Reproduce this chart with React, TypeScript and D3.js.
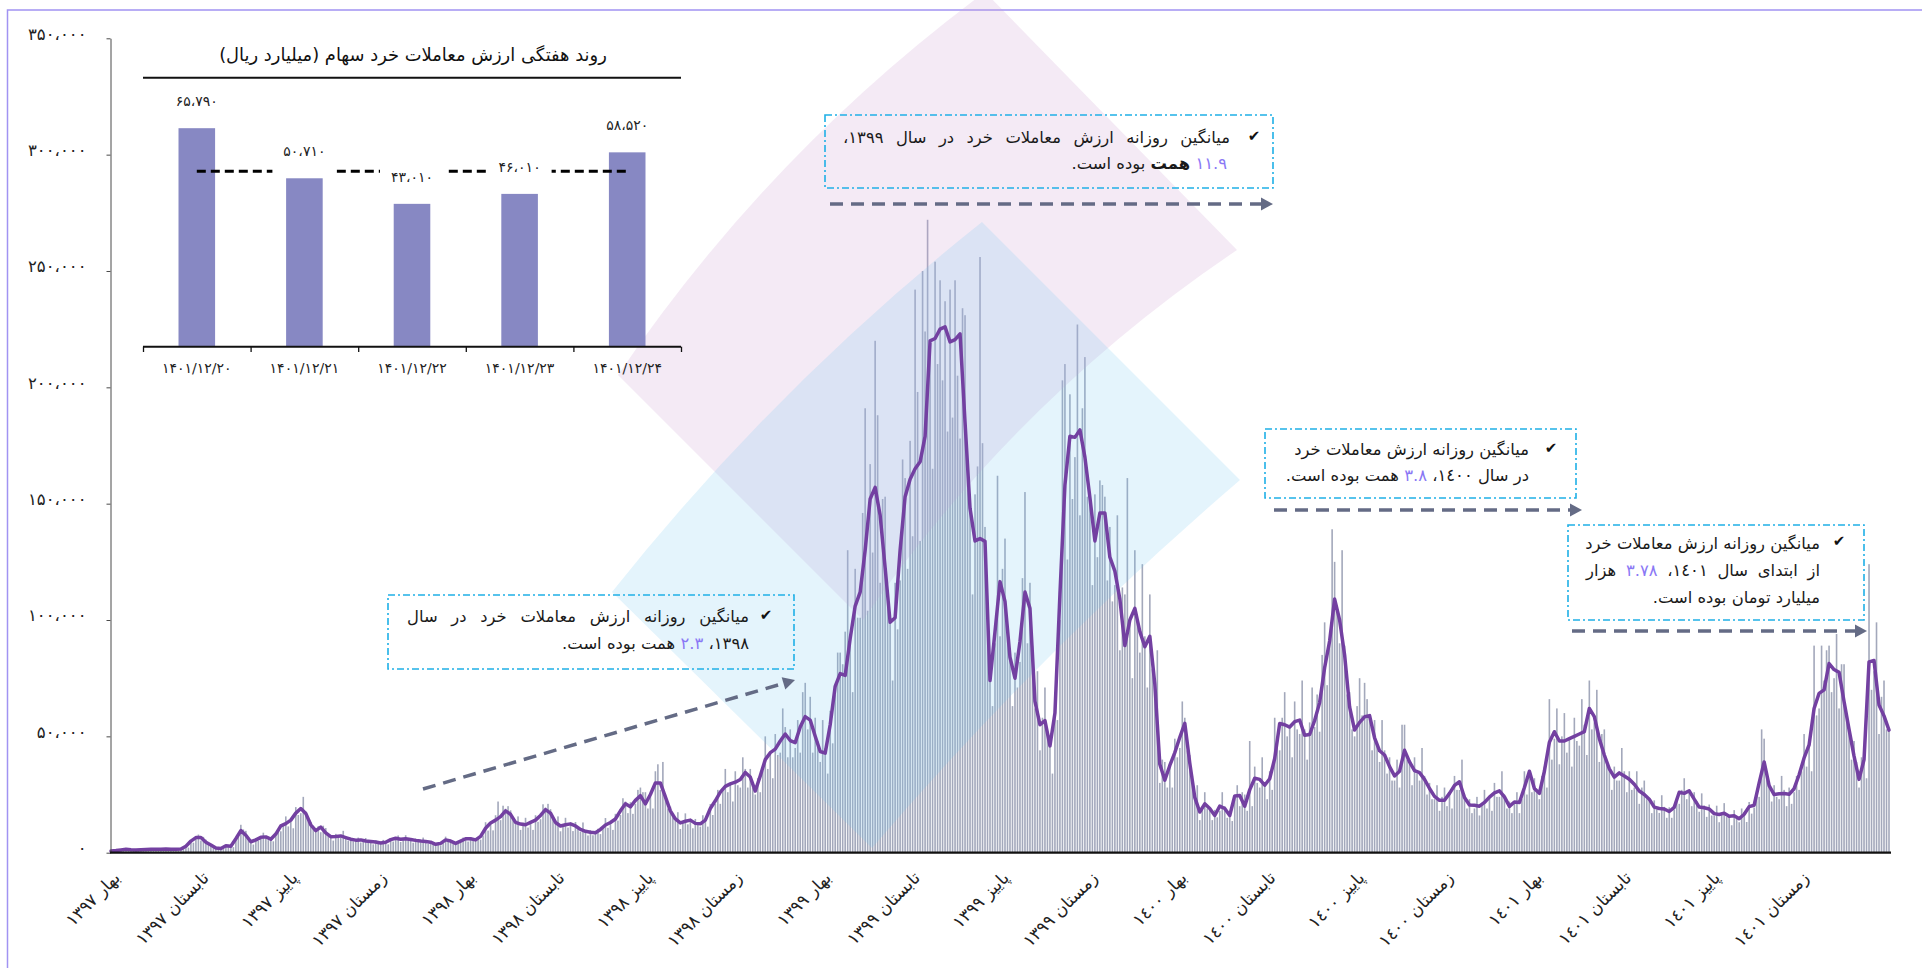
import React, { useEffect, useRef } from 'react';
import * as d3 from 'd3';

const W = 1922;
const H = 968;
const FONT = "'DejaVu Sans', sans-serif";

// ---------- DATA ----------
const seasonLabels = [
  'بهار ۱۳۹۷', 'تابستان ۱۳۹۷', 'پاییز ۱۳۹۷', 'زمستان ۱۳۹۷',
  'بهار ۱۳۹۸', 'تابستان ۱۳۹۸', 'پاییز ۱۳۹۸', 'زمستان ۱۳۹۸',
  'بهار ۱۳۹۹', 'تابستان ۱۳۹۹', 'پاییز ۱۳۹۹', 'زمستان ۱۳۹۹',
  'بهار ١٤٠٠', 'تابستان ١٤٠٠', 'پاییز ١٤٠٠', 'زمستان ١٤٠٠',
  'بهار ١٤٠١', 'تابستان ١٤٠١', 'پاییز ١٤٠١', 'زمستان ١٤٠١',
];
const QUARTERS = 20; // span of the daily series, in seasons

const yTickValues = [0, 50000, 100000, 150000, 200000, 250000, 300000, 350000];

// moving average of daily retail trading value (thousand billion rials), evenly spaced
const lineValues = [
  0.7, 0.9, 1.2, 1.5, 1.3, 1.2, 1.3, 1.4, 1.5, 1.5,
  1.5, 1.6, 1.5, 1.5, 1.6, 2.8, 5, 6.5, 6.5, 4.5,
  3.3, 2, 1.8, 3, 2.8, 6, 9.5, 7.5, 4.7, 5.5,
  6.6, 6.8, 5.8, 8, 11.5, 12.5, 14, 17, 19, 16.9,
  12, 9.5, 11, 8.5, 6.9, 7, 7.2, 6.5, 5.8, 5.4,
  5.5, 5, 4.8, 4.6, 4.2, 4.5, 5.6, 6.2, 5.8, 6,
  5.7, 5.3, 5, 4.8, 4.5, 3.6, 4, 5.5, 5, 4,
  5, 6, 6, 5.5, 7, 10.5, 12.8, 14, 15.5, 18,
  16.5, 13, 12.3, 12, 13, 14, 16, 18.5, 17, 13,
  11.5, 12, 12.4, 11.5, 10, 9.2, 8.8, 8.6, 10, 11.9,
  13, 14.5, 18, 21, 19.7, 22.5, 24.5, 21, 25, 30,
  30, 24, 18, 14.5, 12.8, 13.5, 14, 12.6, 12.4, 14,
  19, 22.3, 26, 28.5, 29.6, 30.3, 31.5, 34.5, 32.5, 26.5,
  33, 40, 43, 44.5, 48, 51, 48.2, 47.3, 54, 58.5,
  57, 50, 43.5, 42.8, 55, 71.5, 77, 76.2, 92, 106,
  112, 130, 152, 157, 145, 122.5, 99, 101, 130, 153,
  160.5, 165, 168, 178.9, 220, 221, 225, 226, 219.5, 220.5,
  223, 185, 148, 134, 135, 133.8, 74, 95, 116.5, 108,
  84, 75, 90.8, 112, 105, 65, 55, 56.8, 45.9, 60,
  111, 158, 179, 178.5, 181.7, 170, 152.7, 134, 146, 146,
  127, 121, 109, 89, 100, 105, 95, 88.5, 93, 72.4,
  38, 31.2, 37.5, 43, 49.6, 55.6, 38.5, 23.8, 17.5, 21,
  19, 16, 20, 19, 16, 24.4, 24.6, 20, 27, 32,
  31.5, 29, 31.8, 40.5, 55.5, 55, 54, 56.3, 57, 50.5,
  50.8, 56.8, 64.5, 79.5, 91, 109, 100, 85, 62.7, 52.7,
  56, 58.4, 58.9, 49.4, 43.8, 42, 37, 33, 35, 44,
  39, 35.3, 34.4, 31.5, 27.6, 24.2, 22.5, 22.5, 25.5, 28.9,
  30.5, 23.7, 20.5, 20.4, 20, 21.6, 23.9, 25.7, 26.6, 24,
  19.9, 21.8, 21.6, 28, 35, 27.6, 25.5, 35, 47.5, 52,
  48, 48, 49, 50, 51, 52, 62, 58.5, 49, 42,
  36, 32.5, 34.3, 33, 31.6, 29.4, 26.5, 25, 23, 19.6,
  19, 18.8, 17.7, 19.5, 26, 25.5, 26.6, 23, 19.6, 19.3,
  18.8, 16.8, 16.4, 17, 15.7, 15.9, 14.6, 16.5, 19.8, 20.4,
  30, 39, 28.8, 25, 25.3, 25.4, 25.1, 27.5, 33.5, 40.7,
  46.3, 62, 68.5, 70, 81.3, 78.7, 77.5, 65, 53, 41.5,
  31.5, 40, 82, 82.6, 63.5, 58.8, 52.7,
];

// daily retail trading value (thousand billion rials), evenly spaced
const barValues = [
  0.8, 0.6, 0.9, 1.1, 1.0, 1.3, 1.9, 1.4, 1.3, 1.0, 1.4, 1.1, 1.2, 1.7, 1.5, 1.1, 1.7, 1.3, 1.4, 1.8,
  1.2, 1.6, 2.0, 1.4, 1.5, 1.1, 1.7, 1.4, 1.4, 2.1, 2.9, 2.2, 5.5, 4.3, 6.2, 7.8, 5.2, 6.8, 5.6, 4.1,
  3.3, 2.5, 2.3, 1.9, 1.6, 2.3, 3.2, 2.4, 3.1, 2.4, 5.7, 7.2, 12, 10, 9.4, 6.8, 4.7, 3.5, 6.3, 5.2,
  5.9, 8.6, 7.1, 5.4, 6.4, 4.9, 7.6, 9.6, 9.2, 12.1, 15.6, 11.3, 14, 10.5, 19.6, 16.2, 17, 24, 17.7, 13.5,
  13.2, 10.2, 9.0, 11.4, 8.8, 11.6, 10.6, 7.7, 6.9, 5.2, 8.1, 6.7, 6.5, 9.4, 6.8, 5.2, 6.4, 4.9, 5.1, 6.5,
  4.4, 5.8, 6.3, 4.5, 4.8, 3.6, 5.3, 4.4, 3.8, 5.5, 4.7, 3.6, 6.2, 4.8, 5.9, 7.4, 4.6, 6.1, 7.5, 5.4,
  5.7, 4.3, 6.1, 5.0, 4.5, 6.5, 5.0, 3.8, 5.0, 3.8, 3.4, 4.3, 3.2, 4.2, 6.9, 5.0, 5.0, 3.8, 4.6, 3.8,
  4.5, 6.5, 6.3, 4.8, 6.6, 5.1, 5.2, 6.6, 5.6, 7.4, 13.1, 9.5, 12.8, 9.6, 16.1, 22, 14.0, 20.2, 18.9, 20,
  18.2, 14.0, 12.4, 15.6, 9.8, 12.9, 15, 10.8, 13, 9.8, 16.1, 13.3, 14.4, 20.8, 19.4, 21, 18.7, 14.5, 12.4, 15.6,
  9.2, 12.1, 15, 10.8, 12.4, 9.3, 13.2, 10.9, 9, 13, 9.7, 7.4, 9.7, 7.5, 8.2, 10.3, 8, 10.5, 14.9, 10.7,
  13, 9.8, 16.7, 13.8, 16.2, 23.4, 22, 17, 21.7, 16.7, 21, 27, 28, 26, 26, 19, 25, 19, 35, 38,
  27, 39, 25, 19, 19.8, 15.3, 13.8, 17.4, 10.2, 13.4, 16.9, 12.2, 14, 10.5, 14.5, 12, 11.2, 16.1, 14.7, 11.2,
  20.9, 16.2, 21, 27, 21, 27, 36, 26, 30, 22, 35, 29, 28, 41, 36, 28, 36, 28, 25, 32,
  26, 35, 50, 36, 43, 32, 51, 42, 43, 62, 54, 41, 53, 41, 45, 57, 43, 69, 73, 53,
  67, 43, 58, 48, 39, 57, 45, 34, 61, 47, 68, 86, 86, 81, 95, 130, 92, 69, 122, 101,
  101, 146, 191, 104, 167, 129, 220, 188, 116, 152, 153, 110, 99, 74, 116, 96, 117, 169, 161, 122,
  177, 136, 242, 198, 134, 250, 224, 272, 220, 165, 254, 210, 246, 203, 237, 181, 242, 187, 246, 205,
  178, 234, 231, 167, 148, 111, 154, 166, 256, 176, 140, 107, 81, 63, 90, 162, 93, 122, 135, 97,
  84, 63, 86, 71, 82, 118, 155, 90, 116, 89, 62, 78, 44, 58, 71, 51, 46, 34, 69, 57,
  100, 203, 210, 126, 197, 152, 170, 227, 145, 191, 213, 153, 153, 115, 154, 127, 160, 158, 153, 117,
  140, 108, 115, 145, 87, 114, 111, 161, 100, 75, 130, 100, 86, 124, 93, 71, 111, 79, 69, 87,
  30, 40, 39, 28, 38, 28, 49, 41, 45, 65, 58, 44, 42, 33, 23, 29, 14, 18.4, 26, 19,
  19, 14, 18.4, 15.2, 18, 26, 20, 15, 17.6, 13.6, 23, 29, 20, 26, 25, 18, 48, 20, 37, 30,
  28, 41, 30, 23, 35, 27, 58, 49, 44, 58, 69, 50, 54, 41, 65, 53, 51, 74, 53, 40,
  56, 71, 54, 68, 52, 85, 99, 72, 91, 139, 125, 104, 90, 130, 89, 68, 69, 53, 50, 63,
  75, 59, 73, 66, 59, 44, 57, 47, 39, 57, 44, 34, 41, 31, 31, 40, 28, 55, 55, 40,
  39, 29, 41, 34, 31, 45, 33, 25, 30, 23, 23, 29, 18, 24, 28, 20, 26, 19, 33, 27,
  27, 40, 25, 19, 23, 17, 19, 24, 16, 21, 27, 19, 24, 18, 30, 24, 24, 35, 25, 19,
  22, 17, 21, 26, 17, 23, 35, 25, 35, 26, 32, 26, 23, 33, 37, 28, 66, 40, 49, 62,
  38, 50, 60, 43, 49, 37, 58, 48, 46, 66, 55, 42, 74, 53, 56, 70, 39, 51, 53, 38,
  36, 27, 37, 31, 31, 45, 35, 26, 35, 27, 28, 35, 21, 28, 31, 23, 23, 17, 22.5, 18.6,
  17.1, 24.7, 19.7, 15, 19.5, 15, 18.5, 23.4, 21, 27, 32, 23, 27, 20, 26, 22, 17.6, 25.5, 20.3, 15.4,
  20.7, 16, 16, 20.2, 13.1, 17.2, 21.3, 15.3, 15.7, 11.8, 18.3, 15.1, 13.1, 19, 17.3, 13.2, 21.8, 16.8, 19.4, 24.5,
  24, 53, 49, 35, 29, 22, 29, 24, 23, 33, 27, 20, 28, 21, 26, 33, 27, 35, 51, 37,
  46, 35, 89, 59, 62, 89, 74, 87, 89, 69, 75, 94, 62, 81, 81, 59, 53, 40, 48, 39,
  28, 41, 42, 32, 124, 70, 78, 99, 51, 67, 74, 53, 53,
];

// inset: weekly retail trading value (billion rials)
const insetDates = ['۱۴۰۱/۱۲/۲۰', '۱۴۰۱/۱۲/۲۱', '۱۴۰۱/۱۲/۲۲', '۱۴۰۱/۱۲/۲۳', '۱۴۰۱/۱۲/۲۴'];
const insetValues = [65790, 50710, 43010, 46010, 58520];
const insetTitle = 'روند هفتگی ارزش معاملات خرد سهام (میلیارد ریال)';

// annotation texts
const notePhrase = 'میانگین روزانه ارزش معاملات خرد';
type Seg = { t: string; c?: string; b?: boolean };
const HL = '#8a78f5';
const note1398: Seg[][] = [
  [{ t: 'میانگین روزانه ارزش معاملات خرد در سال' }],
  [{ t: '۱۳۹۸، ' }, { t: '۲.۳', c: HL }, { t: ' همت بوده است.' }],
];
const note1399: Seg[][] = [
  [{ t: 'میانگین روزانه ارزش معاملات خرد در سال ۱۳۹۹،' }],
  [{ t: '۱۱.۹', c: HL }, { t: ' ' }, { t: 'همت', b: true }, { t: ' بوده است.' }],
];
const note1400: Seg[][] = [
  [{ t: 'میانگین روزانه ارزش معاملات خرد' }],
  [{ t: 'در سال ١٤٠٠، ' }, { t: '۳.۸', c: HL }, { t: ' همت بوده است.' }],
];
const note1401: Seg[][] = [
  [{ t: 'میانگین روزانه ارزش معاملات خرد' }],
  [{ t: 'از ابتدای سال ١٤٠١، ' }, { t: '۳.۷۸', c: HL }, { t: ' هزار' }],
  [{ t: 'میلیارد تومان بوده است.' }],
];

// ---------- helpers ----------
const FA = '۰۱۲۳۴۵۶۷۸۹';
const fa = (s: string) => s.replace(/\d/g, (d) => FA[+d]);
const faNum = (v: number) => fa(d3.format(',')(v)).replace(/,/g, '،');

function draw(svgEl: SVGSVGElement) {
  const svg = d3.select(svgEl);
  svg.selectAll('*').remove();

  svg.append('rect').attr('width', W).attr('height', H).attr('fill', '#fff');
  svg.append('rect')
    .attr('x', 7.5).attr('y', 10).attr('width', W + 40).attr('height', H + 40)
    .attr('fill', 'none').attr('stroke', '#a193f2').attr('stroke-width', 1.5);

  const x = d3.scaleLinear().domain([0, QUARTERS]).range([111, 1889]);
  const y = d3.scaleLinear().domain([0, 350000]).range([852.7, 38.3]);

  // bars
  const nB = barValues.length;
  svg.append('g').selectAll('rect').data(barValues).join('rect')
    .attr('x', (_d, i) => x((QUARTERS * i) / (nB - 1)) - 0.8)
    .attr('y', (d) => y(d * 1000))
    .attr('width', 1.6)
    .attr('height', (d) => y(0) - y(d * 1000))
    .attr('fill', '#a3a8bb');

  // decorative shapes
  const bent = (L: number[], T: number[], R: number[], B: number[], k1: number, k2: number) => {
    const ctrl = (a: number[], b: number[], k: number) => {
      const mx = (a[0] + b[0]) / 2, my = (a[1] + b[1]) / 2;
      const dx = b[0] - a[0], dy = b[1] - a[1];
      const len = Math.hypot(dx, dy);
      let nx = dy / len, ny = -dx / len;
      if (nx + ny > 0) { nx = -nx; ny = -ny; }
      return [mx + nx * k, my + ny * k];
    };
    const c1 = ctrl(L, T, k1);
    const c2 = ctrl(R, B, k2);
    return `M${L[0]},${L[1]} Q${c1[0]},${c1[1]} ${T[0]},${T[1]} L${R[0]},${R[1]} Q${c2[0]},${c2[1]} ${B[0]},${B[1]} Z`;
  };
  svg.append('path')
    .attr('d', bent([618, 375], [985, -8], [1237, 250], [863, 620], 45, 50))
    .attr('fill', 'rgb(205,160,210)').attr('fill-opacity', 0.22);
  svg.append('path')
    .attr('d', bent([612, 592], [982, 222], [1240, 480], [872, 848], 30, 20))
    .attr('fill', 'rgb(120,200,238)').attr('fill-opacity', 0.2);

  // line
  const nL = lineValues.length;
  const line = d3.line<number>()
    .x((_d, i) => x((QUARTERS * i) / (nL - 1)))
    .y((d) => y(d * 1000));
  svg.append('path').datum(lineValues)
    .attr('d', line)
    .attr('fill', 'none').attr('stroke', '#7340a1').attr('stroke-width', 3.5)
    .attr('stroke-linejoin', 'round').attr('stroke-linecap', 'round');

  // y axis
  const gy = svg.append('g').attr('transform', 'translate(110.5,0)')
    .call(d3.axisLeft(y).tickValues(yTickValues).tickSize(4).tickSizeOuter(0).tickPadding(20).tickFormat((v) => faNum(+v)));
  gy.attr('font-family', FONT).attr('font-size', 16.5);
  gy.selectAll('text').attr('fill', '#222').attr('dy', '0.05em');
  gy.select('.domain').attr('stroke', '#4a4a4a');
  gy.selectAll('.tick line').attr('stroke', '#4a4a4a');

  // x baseline
  svg.append('line').attr('x1', 110).attr('x2', 1891).attr('y1', 852.7).attr('y2', 852.7)
    .attr('stroke', '#111').attr('stroke-width', 2.2);

  // x labels
  svg.append('g').selectAll('text').data(seasonLabels).join('text')
    .attr('transform', (_d, i) => `translate(${x(i) + 10},${879}) rotate(-45)`)
    .attr('text-anchor', 'end')
    .attr('font-family', FONT).attr('font-size', 17).attr('fill', '#222')
    .text((d) => d);

  // ---------- inset ----------
  const ins = svg.append('g');
  const ix = d3.scaleBand<string>().domain(insetDates).range([143, 681]).paddingInner(0.66).paddingOuter(0.33);
  const iy = d3.scaleLinear().domain([0, 80000]).range([346.7, 81]);
  const tt = ins.append('text').attr('x', 413).attr('y', 61).attr('text-anchor', 'middle')
    .attr('font-family', FONT).attr('font-size', 16).attr('fill', '#111').text(insetTitle);
  const tw = (tt.node() as SVGTextElement).getComputedTextLength();
  tt.attr('font-size', (16 * 388) / tw);
  ins.append('line').attr('x1', 143).attr('x2', 681).attr('y1', 77.7).attr('y2', 77.7)
    .attr('stroke', '#111').attr('stroke-width', 2);
  ins.selectAll('rect.ib').data(insetValues).join('rect').attr('class', 'ib')
    .attr('x', (_d, i) => ix(insetDates[i])!)
    .attr('width', ix.bandwidth())
    .attr('y', (d) => iy(d))
    .attr('height', (d) => iy(0) - iy(d))
    .attr('fill', '#8788c3');
  ins.append('line').attr('x1', 143).attr('x2', 681).attr('y1', 346.7).attr('y2', 346.7)
    .attr('stroke', '#111').attr('stroke-width', 2);
  const step = ix.step();
  for (let k = 0; k <= insetDates.length; k++) {
    ins.append('line').attr('x1', 143.5 + k * step).attr('x2', 143.5 + k * step)
      .attr('y1', 346.7).attr('y2', 352).attr('stroke', '#111').attr('stroke-width', 1.3);
  }
  ins.selectAll('text.dt').data(insetDates).join('text').attr('class', 'dt')
    .attr('x', (d) => ix(d)! + ix.bandwidth() / 2).attr('y', 373)
    .attr('text-anchor', 'middle').attr('font-family', FONT).attr('font-size', 14).attr('fill', '#222')
    .text((d) => d);
  const avg = d3.mean(insetValues)!;
  const cx = (i: number) => ix(insetDates[i])! + ix.bandwidth() / 2;
  ins.append('line').attr('x1', cx(0)).attr('x2', cx(insetDates.length - 1))
    .attr('y1', iy(avg)).attr('y2', iy(avg))
    .attr('stroke', '#000').attr('stroke-width', 3).attr('stroke-dasharray', '9 5');
  insetValues.forEach((v, i) => {
    const ly = iy(v) - 27;
    if (i > 0 && i < insetValues.length - 1) {
      ins.append('rect').attr('x', cx(i) - 32).attr('y', ly - 12).attr('width', 64).attr('height', 36).attr('fill', '#fff');
    }
    ins.append('text').attr('x', cx(i)).attr('y', ly + 5).attr('text-anchor', 'middle')
      .attr('font-family', FONT).attr('font-size', 14).attr('fill', '#222').text(faNum(v));
  });

  // ---------- annotations ----------
  const probe = svg.append('text').attr('font-family', FONT).attr('font-size', 20).text(notePhrase);
  const pw = (probe.node() as SVGTextElement).getComputedTextLength();
  probe.remove();
  const nfs = (20 * 235) / pw;

  const boxStroke = '#1fb0e6';
  const arrowCol = '#646b85';
  const drawBox = (x0: number, y0: number, x1: number, y1: number) => {
    svg.append('rect').attr('x', x0).attr('y', y0).attr('width', x1 - x0).attr('height', y1 - y0)
      .attr('fill', 'none').attr('stroke', boxStroke).attr('stroke-width', 1.6)
      .attr('stroke-dasharray', '7 3 2 3');
  };
  const drawLine = (segs: Seg[], xr: number, yb: number, left?: number) => {
    const t = svg.append('text').attr('x', xr).attr('y', yb)
      .attr('direction', 'rtl').style('direction', 'rtl').attr('text-anchor', 'start')
      .attr('font-family', FONT).attr('font-size', nfs).attr('fill', '#1a1a1a');
    segs.forEach((s) => {
      const sp = t.append('tspan').text(s.t);
      if (s.c) sp.attr('fill', s.c);
      if (s.b) sp.attr('font-weight', 'bold');
    });
    if (left !== undefined) {
      const w = (t.node() as SVGTextElement).getComputedTextLength();
      const n = (segs.map((s) => s.t).join('').match(/ /g) || []).length;
      if (n > 0) t.style('word-spacing', `${(xr - left - w) / n}px`);
    }
  };
  const check = (cxp: number, cyp: number) => {
    svg.append('text').attr('x', cxp).attr('y', cyp).attr('text-anchor', 'middle')
      .attr('font-family', FONT).attr('font-size', 15).attr('fill', '#111').text('✔');
  };
  const arrow = (x0: number, y0: number, x1: number, y1: number) => {
    const a = Math.atan2(y1 - y0, x1 - x0);
    const hl = 12, hw = 6.5;
    const bx = x1 - hl * Math.cos(a), by = y1 - hl * Math.sin(a);
    svg.append('line').attr('x1', x0).attr('y1', y0).attr('x2', bx).attr('y2', by)
      .attr('stroke', arrowCol).attr('stroke-width', 3.5).attr('stroke-dasharray', '13 8');
    const px = -Math.sin(a), py = Math.cos(a);
    svg.append('path')
      .attr('d', `M${x1},${y1} L${bx + px * hw},${by + py * hw} L${bx - px * hw},${by - py * hw} Z`)
      .attr('fill', arrowCol);
  };

  // 1398
  drawBox(388, 595, 794, 669);
  drawLine(note1398[0], 749, 622, 407);
  drawLine(note1398[1], 749, 649);
  check(766, 620);
  arrow(423, 789, 795, 680);

  // 1399
  drawBox(825, 115, 1273, 188);
  drawLine(note1399[0], 1230, 143, 843);
  drawLine(note1399[1], 1227, 169);
  check(1254, 141);
  arrow(830, 204, 1273, 204);

  // 1400
  drawBox(1265, 429, 1576, 498);
  drawLine(note1400[0], 1529, 455);
  drawLine(note1400[1], 1529, 481);
  check(1551, 453);
  arrow(1274, 510, 1582, 510);

  // 1401
  drawBox(1568, 525, 1864, 620);
  drawLine(note1401[0], 1820, 549);
  drawLine(note1401[1], 1820, 576, 1586);
  drawLine(note1401[2], 1820, 603);
  check(1839, 546);
  arrow(1572, 631, 1867, 631);
}

export default function App() {
  const ref = useRef<SVGSVGElement>(null);
  useEffect(() => {
    if (ref.current) draw(ref.current);
  }, []);
  return (
    <svg
      ref={ref}
      width={W}
      height={H}
      style={{ position: 'absolute', left: 0, top: 0, display: 'block', background: '#fff' }}
    />
  );
}
